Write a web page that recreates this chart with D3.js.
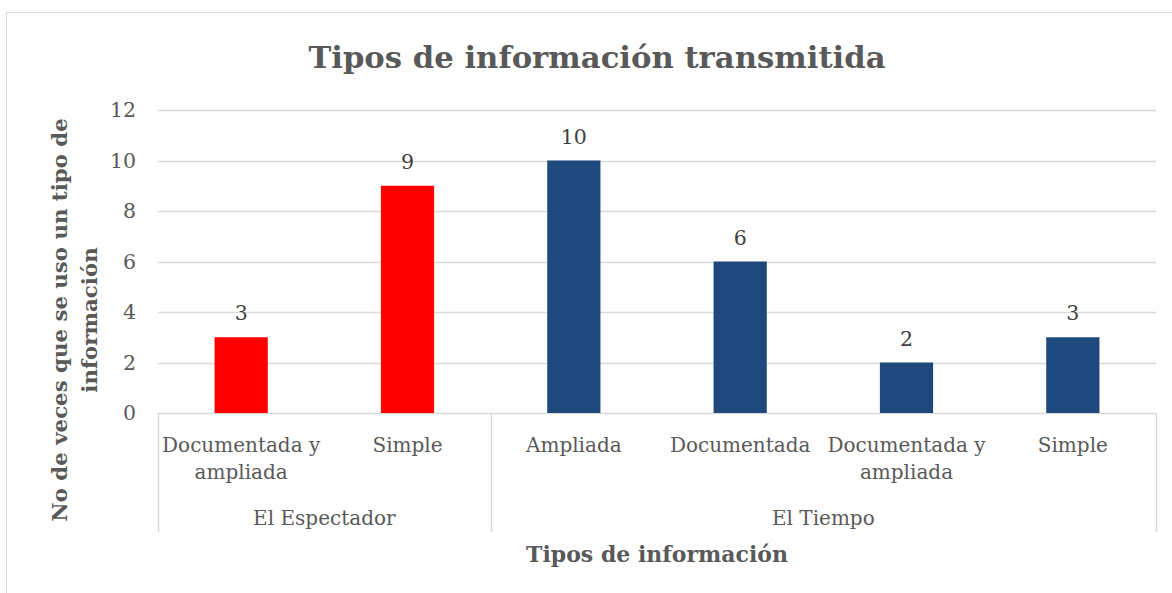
<!DOCTYPE html>
<html>
<head>
<meta charset="utf-8">
<script src="https://cdn.jsdelivr.net/npm/d3@7"></script>
<style>
  body { margin: 0; background: #fff; }
  svg { display: block; font-family: "DejaVu Serif", serif; }
</style>
</head>
<body>
<div id="chart"></div>
<script>
// datos
var groups = ["El Espectador", "El Tiempo"];
var categories = ["Documentada y ampliada", "Simple", "Ampliada", "Documentada", "Documentada y ampliada", "Simple"];
var categoryGroup = [0, 0, 1, 1, 1, 1];
var values = [3, 9, 10, 6, 2, 3];
var groupColors = ["#ff0000", "#1f497d"];
var yTicks = [0, 2, 4, 6, 8, 10, 12];

var width = 1172, height = 593;
var margin = { left: 158, right: 16, top: 110, bottom: 180 };

var svg = d3.select("#chart").append("svg")
    .attr("width", width)
    .attr("height", height);

// borde del area del grafico
svg.append("rect")
    .attr("x", 6.5).attr("y", 12.5)
    .attr("width", 1200).attr("height", 700)
    .attr("fill", "#fff")
    .attr("stroke", "#d9d9d9");

var x = d3.scaleBand()
    .domain(d3.range(categories.length))
    .range([margin.left, width - margin.right])
    .paddingInner(0.68)
    .paddingOuter(0.34);

var y = d3.scaleLinear()
    .domain([0, 12])
    .range([height - margin.bottom, margin.top]);

var textColor = "#595959";

// titulo
svg.append("text")
    .attr("x", 597).attr("y", 68)
    .attr("text-anchor", "middle")
    .attr("font-size", 30.7)
    .attr("font-weight", "bold")
    .attr("fill", textColor)
    .text("Tipos de información transmitida");

// lineas de cuadricula
svg.append("g").selectAll("line")
    .data(yTicks)
    .enter().append("line")
      .attr("x1", margin.left).attr("x2", width - margin.right)
      .attr("y1", function(d) { return Math.round(y(d)) + 0.5; })
      .attr("y2", function(d) { return Math.round(y(d)) + 0.5; })
      .attr("stroke", "#d9d9d9")
      .attr("stroke-width", 1.5);

// eje y
var yAxis = svg.append("g")
    .attr("transform", "translate(" + (margin.left - 22) + ",0)")
    .call(d3.axisLeft(y).tickValues(yTicks).tickSize(0).tickPadding(0));
yAxis.select(".domain").remove();
yAxis.selectAll("text")
    .attr("font-family", "DejaVu Serif, serif")
    .attr("font-size", 20.5)
    .attr("fill", textColor);

// barras
svg.append("g").selectAll("rect")
    .data(values)
    .enter().append("rect")
      .attr("x", function(d, i) { return x(i); })
      .attr("y", function(d) { return y(d); })
      .attr("width", x.bandwidth())
      .attr("height", function(d) { return y(0) - y(d); })
      .attr("fill", function(d, i) { return groupColors[categoryGroup[i]]; });

// etiquetas de datos
svg.append("g").selectAll("text")
    .data(values)
    .enter().append("text")
      .attr("x", function(d, i) { return x(i) + x.bandwidth() / 2; })
      .attr("y", function(d) { return y(d) - 17; })
      .attr("text-anchor", "middle")
      .attr("font-size", 20.5)
      .attr("fill", "#404040")
      .text(function(d) { return d; });

// eje de categorias (dos niveles)
var baseY = y(0);
var step = x.step();
var x0 = margin.left, x1 = width - margin.right;
var sepX = [x0];
var acc = 0;
groups.forEach(function(g, gi) {
  acc += categoryGroup.filter(function(c) { return c == gi; }).length;
  sepX.push(x0 + acc * step);
});
svg.append("g").selectAll("line")
    .data(sepX)
    .enter().append("line")
      .attr("x1", function(d) { return Math.round(d) + 0.5; })
      .attr("x2", function(d) { return Math.round(d) + 0.5; })
      .attr("y1", baseY).attr("y2", 532)
      .attr("stroke", "#d9d9d9")
      .attr("stroke-width", 1.5);

// etiquetas de categoria, partidas en dos lineas si hace falta
var catLabels = svg.append("g").selectAll("text")
    .data(categories)
    .enter().append("text")
      .attr("text-anchor", "middle")
      .attr("font-size", 20)
      .attr("fill", textColor);
catLabels.each(function(d, i) {
  var cx = x(i) + x.bandwidth() / 2;
  var lines = d == "Documentada y ampliada" ? ["Documentada y", "ampliada"] : [d];
  var t = d3.select(this);
  lines.forEach(function(l, li) {
    t.append("tspan")
      .attr("x", cx)
      .attr("y", 452 + li * 27)
      .text(l);
  });
});

svg.append("g").selectAll("text")
    .data(groups)
    .enter().append("text")
      .attr("x", function(d, i) { return (sepX[i] + sepX[i + 1]) / 2; })
      .attr("y", 525)
      .attr("text-anchor", "middle")
      .attr("font-size", 20)
      .attr("fill", textColor)
      .text(function(d) { return d; });

// titulo del eje x
svg.append("text")
    .attr("x", 657).attr("y", 562)
    .attr("text-anchor", "middle")
    .attr("font-size", 22)
    .attr("font-weight", "bold")
    .attr("fill", textColor)
    .text("Tipos de información");

// titulo del eje y
var yTitle = svg.append("text")
    .attr("transform", "translate(0,320) rotate(-90)")
    .attr("text-anchor", "middle")
    .attr("font-size", 21.3)
    .attr("font-weight", "bold")
    .attr("fill", textColor);
yTitle.append("tspan").attr("x", 0).attr("y", 67).text("No de veces que se uso un tipo de");
yTitle.append("tspan").attr("x", 0).attr("y", 97).text("información");
</script>
</body>
</html>
